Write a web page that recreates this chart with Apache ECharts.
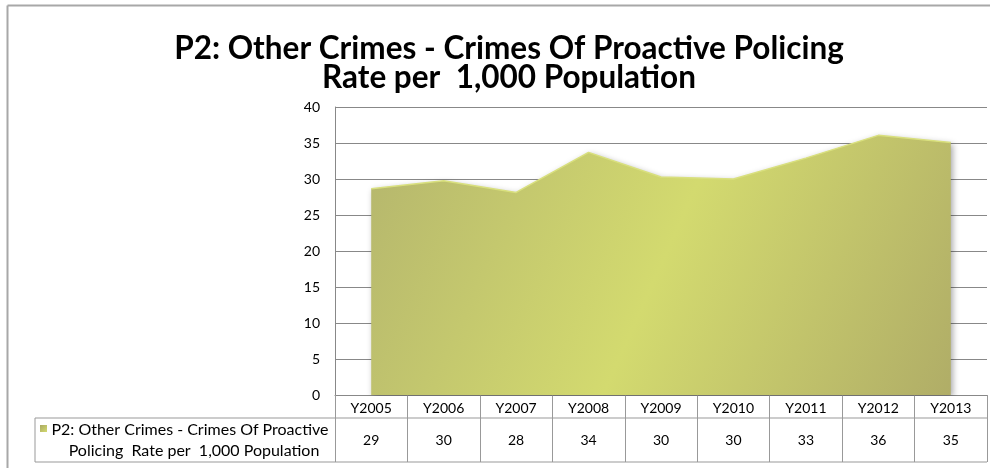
<!DOCTYPE html>
<html>
<head>
<meta charset="utf-8">
<script src="https://cdn.jsdelivr.net/npm/echarts@6/dist/echarts.min.js"></script>
<style>html,body{margin:0;padding:0;background:#fff;overflow:hidden}#c{width:990px;height:468px}</style>
</head>
<body>
<div id="c"></div>
<script>
const titleLines = ['P2: Other Crimes - Crimes Of Proactive Policing', 'Rate per  1,000 Population'];
const categories = ['Y2005','Y2006','Y2007','Y2008','Y2009','Y2010','Y2011','Y2012','Y2013'];
const values = [28.65, 29.76, 28.14, 33.7, 30.28, 30.0, 32.9, 36.06, 35.08];
const tableValues = [29, 30, 28, 34, 30, 30, 33, 36, 35];
const seriesName = ['P2: Other Crimes - Crimes Of Proactive', 'Policing  Rate per  1,000 Population'];
const yTicks = {min: 0, max: 40, interval: 5};

const FONT = 'Lato';
const chart = echarts.init(document.getElementById('c'), null, {renderer: 'canvas'});
chart.setOption({
  animation: false,
  backgroundColor: '#fff',
  title: {
    text: titleLines.join('\n'),
    left: 504, top: 29, textAlign: 'center',
    textStyle: {fontFamily: FONT, fontWeight: 'bold', fontSize: 31.5, lineHeight: 29, color: '#000'}
  },
  grid: {left: 335, right: 3, top: 107, bottom: 73, containLabel: false},
  xAxis: [{
    type: 'category', data: categories, boundaryGap: true,
    axisLine: {show: true, lineStyle: {color: '#888', width: 1}},
    axisTick: {show: true, interval: 0, length: 67, lineStyle: {color: '#999', width: 1}},
    axisLabel: {interval: 0, margin: 6, fontFamily: FONT, fontSize: 14, color: '#000'}
  }, {
    type: 'category', data: categories, position: 'bottom', offset: 23,
    axisLine: {show: false}, axisTick: {show: false},
    axisLabel: {interval: 0, margin: 15, fontFamily: FONT, fontSize: 14, color: '#000',
      formatter: (v, i) => String(tableValues[i])}
  }],
  yAxis: {
    type: 'value', min: yTicks.min, max: yTicks.max, interval: yTicks.interval,
    axisLine: {show: true, lineStyle: {color: '#888'}},
    axisTick: {show: false},
    axisLabel: {margin: 15, fontFamily: FONT, fontSize: 14, color: '#000'},
    splitLine: {lineStyle: {color: '#888', width: 1}}
  },
  series: [{
    type: 'line', name: seriesName.join(' '), data: values, xAxisIndex: 0,
    symbol: 'none', smooth: false,
    lineStyle: {color: '#d9e07e', width: 1.5},
    areaStyle: {
      opacity: 1,
      color: new echarts.graphic.LinearGradient(0, 0, 1, 1, [
        {offset: 0, color: '#b5b66d'},
        {offset: 0.5, color: '#d3da6f'},
        {offset: 1, color: '#b0ad67'}
      ]),
      shadowColor: 'rgba(0,0,0,0.35)', shadowBlur: 6, shadowOffsetX: 2, shadowOffsetY: 2
    }
  }],
  graphic: [
    {type: 'line', shape: {x1: 7.5, y1: 5.5, x2: 990, y2: 5.5}, style: {stroke: '#a8a8a8', lineWidth: 2}, silent: true},
    {type: 'line', shape: {x1: 7.5, y1: 5.5, x2: 7.5, y2: 468}, style: {stroke: '#a8a8a8', lineWidth: 2}, silent: true},
    {type: 'line', shape: {x1: 35, y1: 418, x2: 987, y2: 418}, style: {stroke: '#999', lineWidth: 1}},
    {type: 'line', shape: {x1: 35, y1: 462, x2: 987, y2: 462}, style: {stroke: '#999', lineWidth: 1}},
    {type: 'line', shape: {x1: 35, y1: 418, x2: 35, y2: 462}, style: {stroke: '#999', lineWidth: 1}},
    {type: 'rect', shape: {x: 40, y: 425, width: 7, height: 7},
      style: {fill: new echarts.graphic.LinearGradient(0, 0, 1, 1, [{offset: 0, color: '#a9a862'}, {offset: 1, color: '#d3da6f'}])}},
    {type: 'text', x: 190, y: 430, style: {text: seriesName[0], fontFamily: FONT, fontSize: 16, fill: '#000', align: 'center', verticalAlign: 'middle'}},
    {type: 'text', x: 194, y: 451, style: {text: seriesName[1], fontFamily: FONT, fontSize: 16, fill: '#000', align: 'center', verticalAlign: 'middle'}}
  ]
});
</script>
</body>
</html>
